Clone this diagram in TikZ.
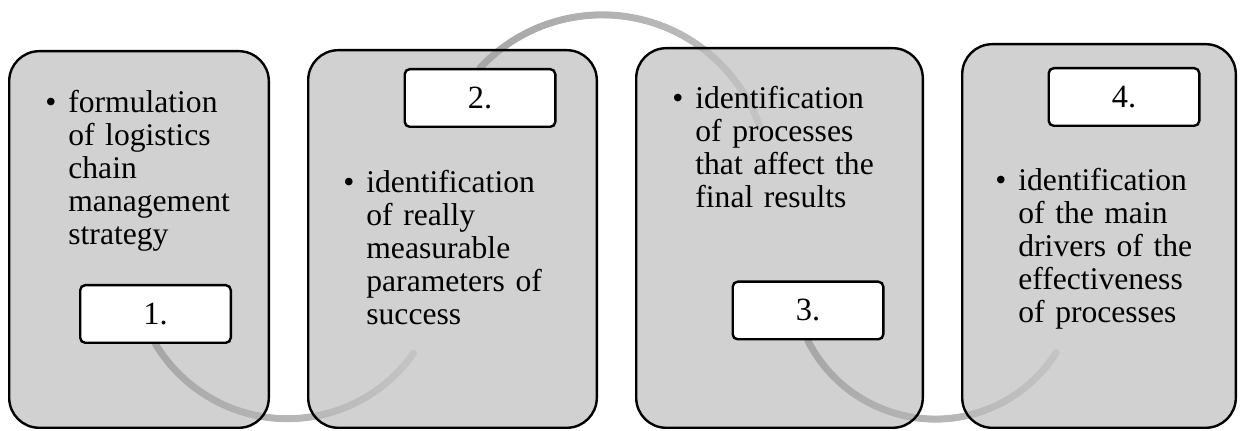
\documentclass[tikz,border=0pt]{standalone}
\usepackage{fontspec}
\setmainfont{Liberation Serif}
\usetikzlibrary{decorations.markings,calc}
\definecolor{boxfill}{RGB}{209,209,209}
\definecolor{arrowA}{RGB}{166,166,166}
\definecolor{arrowB}{RGB}{196,196,196}
\begin{document}
\begin{tikzpicture}[x=0.5pt,y=-0.5pt,
  bigbox/.style={rectangle, rounded corners=15pt, fill=boxfill, outer sep=0pt, inner sep=0pt},
  boxborder/.style={draw=black, line width=1.2pt, rounded corners=15pt},
  numbox/.style={rectangle, rounded corners=2.5pt, draw=black, line width=1.2pt, fill=white,
    minimum width=75.3pt, minimum height=28.8pt, inner sep=0pt, font=\fontsize{16.2}{16.5}\selectfont},
  txt/.style={anchor=base west, text width=135pt, align=left, inner sep=0pt,
    font=\fontsize{15.8}{16.5}\selectfont},
  gradarrow/.style={
    decoration={markings,
      mark=between positions 0 and 1 step 0.8pt with {
        \pgfmathtruncatemacro\gpc{\pgfkeysvalueof{/pgf/decoration/mark info/distance from start}/\pgfdecoratedpathlength*100}
        \fill[arrowB!\gpc!arrowA] (0pt,0pt) circle (1.8pt);
      },
      mark=at position 1 with {\fill[arrowB] (5pt,0pt) -- (-2pt,4.5pt) -- (-2pt,-4.5pt) -- cycle;}
    },
    decorate}
]
\useasboundingbox (0,0) rectangle (1241,431);

% big boxes (fill)
\node[bigbox, minimum width=129.8pt, minimum height=188.3pt] (b1) at (139,239.5) {};
\node[bigbox, minimum width=144.3pt, minimum height=188.8pt] (b2) at (452.5,239) {};
\node[bigbox, minimum width=143.3pt, minimum height=189.8pt] (b3) at (779.5,238) {};
\node[bigbox, minimum width=136.8pt, minimum height=191.8pt] (b4) at (1099,236) {};

% label box centres
\path (155.5,314) coordinate (c1) (480,98) coordinate (c2) (808,310.5) coordinate (c3) (1124,97) coordinate (c4);

% arrows
\path[gradarrow] ($(c1)+(0,30)$) arc[start angle=149, end angle=35, radius=154];
\path[gradarrow] ($(c2)+(0,-30)$) arc[start angle=223, end angle=341, radius=167];
\path[gradarrow] ($(c3)+(0,30.5)$) arc[start angle=153, end angle=32, radius=143];

% borders on top
\draw[boxborder] (b1.north west) rectangle (b1.south east);
\draw[boxborder] (b2.north west) rectangle (b2.south east);
\draw[boxborder] (b3.north west) rectangle (b3.south east);
\draw[boxborder] (b4.north west) rectangle (b4.south east);

% texts
\node[txt] (t1) at (68,113) {\llap{\textbullet\hspace{6pt}}formulation\\of logistics\\chain\\management\\strategy};
\node[txt] (t2) at (366,193) {\llap{\textbullet\hspace{6pt}}identification\\of really\\measurable\\parameters of\\success};
\node[txt] (t3) at (695,109) {\llap{\textbullet\hspace{6pt}}identification\\of processes\\that affect the\\final results};
\node[txt] (t4) at (1018,191) {\llap{\textbullet\hspace{6pt}}identification\\of the main\\drivers of the\\effectiveness\\of processes};

% number boxes
\node[numbox] (l1) at (c1) {1.};
\node[numbox] (l2) at (c2) {2.};
\node[numbox] (l3) at (c3) {3.};
\node[numbox] (l4) at (c4) {4.};
\end{tikzpicture}
\end{document}
